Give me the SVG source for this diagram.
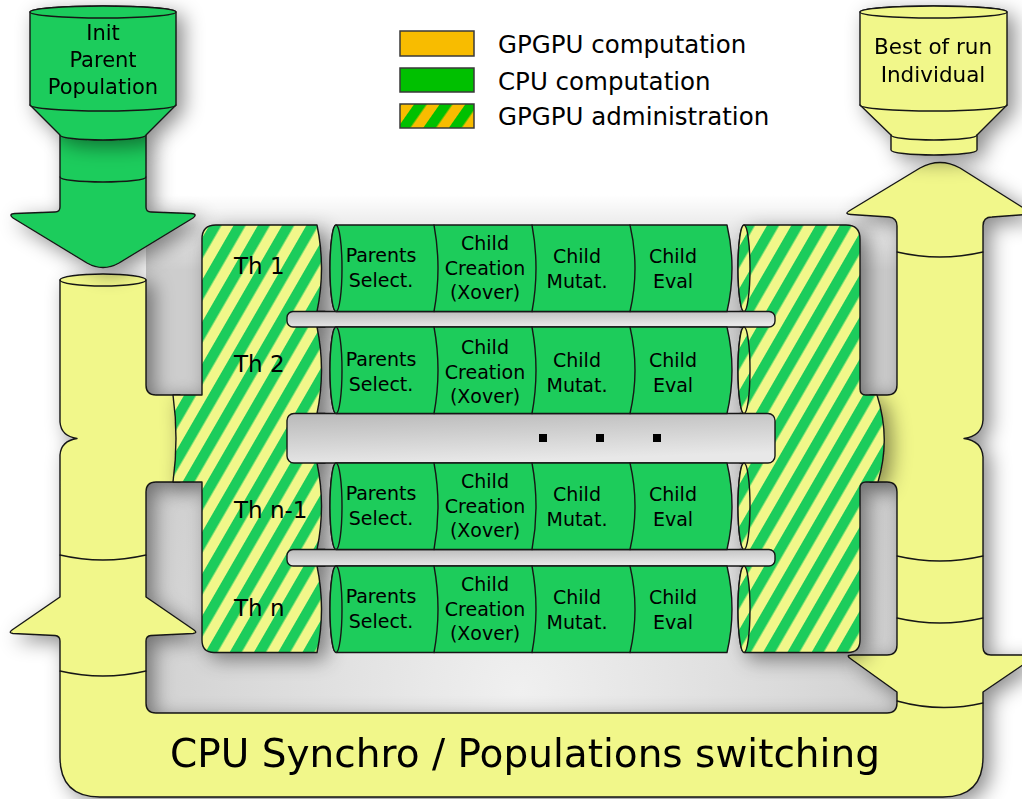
<svg xmlns="http://www.w3.org/2000/svg" xmlns:xlink="http://www.w3.org/1999/xlink" width="1022" height="799" viewBox="0 0 1022 799">
  <style>
    .ln{stroke:#161616;stroke-width:1.4;stroke-linejoin:round;stroke-linecap:round}
    .nf{fill:none}
    .grn{fill:#1dcc5b}
    .yel{fill:#f1f78a}
    .str{fill:url(#stripes)}
    .bar{fill:url(#barGrad)}
    text{font-family:"DejaVu Sans","Liberation Sans",sans-serif;fill:#000}
    .cyl{font-size:19px;text-anchor:middle}
    .th{font-size:23px}
    .leg{font-size:24.5px}
    .fun{font-size:21px;text-anchor:middle}
  </style>
  <defs>
    <!-- green / yellow diagonal stripes for GPGPU administration areas -->
    <pattern id="stripes" width="21" height="40" patternUnits="userSpaceOnUse" patternTransform="rotate(30)">
      <rect width="21" height="40" fill="#f1f78a"/>
      <rect width="10.5" height="40" fill="#1dcc5b"/>
    </pattern>
    <!-- legend variant: green / orange -->
    <pattern id="legStripes" width="21" height="40" patternUnits="userSpaceOnUse" patternTransform="rotate(35)">
      <rect width="21" height="40" fill="#f8bc00"/>
      <rect width="10.5" height="40" fill="#00c000"/>
    </pattern>
    <linearGradient id="barGrad" x1="0" y1="0" x2="0.3" y2="1">
      <stop offset="0" stop-color="#b9b9b9"/>
      <stop offset="1" stop-color="#e8e8e8"/>
    </linearGradient>
    <linearGradient id="bgFade" gradientUnits="userSpaceOnUse" x1="0" y1="195" x2="0" y2="270">
      <stop offset="0" stop-color="#ffffff"/>
      <stop offset="1" stop-color="#ffffff" stop-opacity="0"/>
    </linearGradient>
    <radialGradient id="bgGrad" gradientUnits="userSpaceOnUse" cx="520" cy="690" r="430">
      <stop offset="0" stop-color="#f0f0f0"/>
      <stop offset="1" stop-color="#cdcdcd"/>
    </radialGradient>
    <filter id="shadow" x="-30%" y="-30%" width="160%" height="160%">
      <feGaussianBlur in="SourceAlpha" stdDeviation="10"/>
      <feOffset dx="7" dy="6" result="blur"/>
      <feFlood flood-color="#000" flood-opacity="0.45"/>
      <feComposite in2="blur" operator="in"/>
      <feMerge><feMergeNode/><feMergeNode in="SourceGraphic"/></feMerge>
    </filter>
  </defs>

  <!-- recessed background inside the loop -->
  <rect x="146" y="195" width="751" height="518" fill="url(#bgGrad)"/>
  <rect x="146" y="195" width="751" height="75" fill="url(#bgFade)"/>

  <!-- CPU synchro loop: both columns and the bottom bar -->
  <g id="cpu-synchro" filter="url(#shadow)">
    <path class="yel ln" d="M60,280 V422 Q61,436 77,438.5 Q61,441 60,455 V597 L12,630 Q8,633 13,633.5 L55,635.5 Q60,636 60,641 V757 Q60,797 100,797 H943 Q983,797 983,757 V692 L1033,658 Q1038,655 1031,655 H991 Q983,655 983,647 V457 Q982,441 964,438.5 Q982,436 983,420 V226 Q983,217 992,217 L1033,214 L960,168 Q940,157 920,168 L849,211 Q844,214 851,214.5 L889,217 Q897,218 897,226 V385 Q897,395 887,395 H870 V482 H887 Q897,482 897,492 V645 Q897,655 887,655 H852 Q845,655 851,659 L897,692 V703 Q897,713 887,713 H156 Q146,713 146,703 V641 Q146,636 151,635.5 L193,633.5 Q198,633 194,630 L146,597 V492 Q146,482 156,482 H180 V395 H156 Q146,395 146,385 V280 A43,6 0 0 0 60,280 Z"/>
    <path class="ln nf" d="M60,280 A43,6 0 0 0 146,280"/>
    <path class="ln nf" d="M60,555 Q103,565 146,555 M60,671 Q103,681 146,671"/>
    <path class="ln nf" d="M897,252 Q940,262 983,252 M897,556 Q940,566 983,556 M897,618 Q940,628 983,618 M897,701 Q940,713 983,703"/>
    <text x="525" y="767" style="font-size:39px;text-anchor:middle">CPU Synchro / Populations switching</text>
  </g>

  <!-- arrow feeding the initial population into the loop -->
  <g id="connectors" filter="url(#shadow)">
    <path class="grn ln" d="M60,135 V207 Q60,212 55,212 L15,213.5 Q8,214 13,218 L87,263 Q103,272 119,263 L193,218 Q198,214 191,213.5 L151,212 Q146,212 146,207 V135 Z"/>
    <path class="ln nf" d="M60,177 A43,5 0 0 0 146,177"/>
  </g>

  <!-- initial parent population -->
  <g id="init-population" filter="url(#shadow)">
    <path class="grn ln" d="M30,12 V105 L60,135 A43,5 0 0 0 146,135 L176,105 V12 A73,6 0 0 0 30,12 Z"/>
    <ellipse class="grn ln" cx="103" cy="12" rx="73" ry="6"/>
    <path class="ln nf" d="M30,105 A73,6 0 0 0 176,105"/>
    <text class="fun" x="103" y="40">Init</text>
    <text class="fun" x="103" y="67">Parent</text>
    <text class="fun" x="103" y="94">Population</text>
  </g>

  <!-- best individual of the run -->
  <g id="best-individual" filter="url(#shadow)">
    <path class="yel ln" d="M860,12 V105 L891,135 V150 A43,5 0 0 0 977,150 V135 L1007,105 V12 A73.5,6 0 0 0 860,12 Z"/>
    <ellipse class="yel ln" cx="933.5" cy="12" rx="73.5" ry="6"/>
    <path class="ln nf" d="M860,105 A73.5,6 0 0 0 1007,105 M891,135 A43,5 0 0 0 977,135"/>
    <text class="fun" x="933" y="54" style="font-size:21.5px">Best of run</text>
    <text class="fun" x="933" y="82" style="font-size:21.5px">Individual</text>
  </g>

  <!-- GPGPU administration blocks -->
  <g id="gpgpu-admin" filter="url(#shadow)">
    <path class="str ln" d="M216,225 H317 Q326,268 317,311.5 H325 V327 H317 Q326,370 317,413.5 H325 V463 H317 Q326,506 317,549.5 H325 V566 H317 Q326,609 317,652.5 H214 Q202,652.5 202,640 V482 H173 Q179,438.5 173,395 H202 V239 Q202,225 216,225 Z"/>
    <path class="str ln" d="M744,225 H846 Q860,225 860,239 V389 Q860,395 866,395 H877 Q891,438.5 878,482 H866 Q860,482 860,488 V640 Q860,652.5 848,652.5 H744 A6,43.25 0 0 1 744,566 H740 V549.5 H744 A6,43.25 0 0 1 744,463 H740 V413.5 H744 A6,43.25 0 0 1 744,327 H740 V311.5 H744 A6,43.25 0 0 1 744,225 Z"/>
  </g>

  <!-- gaps between thread rows -->
  <g id="row-gaps">
    <rect class="bar ln" x="287" y="311.5" width="488" height="15.5" rx="6"/>
    <rect class="bar ln" x="287" y="413.5" width="488" height="49.5" rx="7"/>
    <rect class="bar ln" x="287" y="549.5" width="488" height="16.5" rx="6"/>
    <rect x="539" y="434" width="8" height="8" fill="#000"/>
    <rect x="596" y="434" width="8" height="8" fill="#000"/>
    <rect x="653" y="434" width="8" height="8" fill="#000"/>
  </g>

  <!-- one thread pipeline, row top at y=0 -->
  <defs>
    <g id="pipe">
      <path class="grn ln" d="M336,0 H727 Q737,43.25 727,86.5 H336 A6,43.25 0 0 1 336,0 Z"/>
      <ellipse class="grn ln" cx="336" cy="43.25" rx="6" ry="43.25"/>
      <path class="ln nf" d="M434,0 Q442,43.25 434,86.5 M532,0 Q540,43.25 532,86.5 M630,0 Q640,43.25 630,86.5"/>
      <ellipse class="str ln" cx="744" cy="43.25" rx="6" ry="43.25"/>
    </g>
  </defs>

  <g id="thread-1">
    <use xlink:href="#pipe" href="#pipe" transform="translate(0,225)"/>
    <text class="th" x="234" y="274">Th 1</text>
    <text class="cyl" x="381" y="262">Parents</text>
    <text class="cyl" x="381" y="287">Select.</text>
    <text class="cyl" x="485" y="250">Child</text>
    <text class="cyl" x="485" y="275">Creation</text>
    <text class="cyl" x="485" y="299">(Xover)</text>
    <text class="cyl" x="577" y="263">Child</text>
    <text class="cyl" x="577" y="287.5">Mutat.</text>
    <text class="cyl" x="673" y="263">Child</text>
    <text class="cyl" x="673" y="287.5">Eval</text>
  </g>

  <g id="thread-2">
    <use xlink:href="#pipe" href="#pipe" transform="translate(0,327)"/>
    <text class="th" x="234" y="372">Th 2</text>
    <text class="cyl" x="381" y="366">Parents</text>
    <text class="cyl" x="381" y="391">Select.</text>
    <text class="cyl" x="485" y="354">Child</text>
    <text class="cyl" x="485" y="379">Creation</text>
    <text class="cyl" x="485" y="403">(Xover)</text>
    <text class="cyl" x="577" y="367">Child</text>
    <text class="cyl" x="577" y="391.5">Mutat.</text>
    <text class="cyl" x="673" y="367">Child</text>
    <text class="cyl" x="673" y="391.5">Eval</text>
  </g>

  <g id="thread-n-1">
    <use xlink:href="#pipe" href="#pipe" transform="translate(0,463)"/>
    <text class="th" x="234" y="518">Th n-1</text>
    <text class="cyl" x="381" y="500">Parents</text>
    <text class="cyl" x="381" y="525">Select.</text>
    <text class="cyl" x="485" y="488">Child</text>
    <text class="cyl" x="485" y="513">Creation</text>
    <text class="cyl" x="485" y="537">(Xover)</text>
    <text class="cyl" x="577" y="501">Child</text>
    <text class="cyl" x="577" y="525.5">Mutat.</text>
    <text class="cyl" x="673" y="501">Child</text>
    <text class="cyl" x="673" y="525.5">Eval</text>
  </g>

  <g id="thread-n">
    <use xlink:href="#pipe" href="#pipe" transform="translate(0,566)"/>
    <text class="th" x="234" y="616">Th n</text>
    <text class="cyl" x="381" y="603">Parents</text>
    <text class="cyl" x="381" y="628">Select.</text>
    <text class="cyl" x="485" y="591">Child</text>
    <text class="cyl" x="485" y="616">Creation</text>
    <text class="cyl" x="485" y="640">(Xover)</text>
    <text class="cyl" x="577" y="604">Child</text>
    <text class="cyl" x="577" y="628.5">Mutat.</text>
    <text class="cyl" x="673" y="604">Child</text>
    <text class="cyl" x="673" y="628.5">Eval</text>
  </g>

  <!-- legend -->
  <g id="legend">
    <rect x="400" y="31" width="74" height="25" fill="#f8bc00" stroke="#3a3a3a" stroke-width="1.5"/>
    <rect x="400" y="68" width="74" height="24" fill="#00c000" stroke="#3a3a3a" stroke-width="1.5"/>
    <rect x="400" y="104" width="74" height="24" fill="url(#legStripes)" stroke="#3a3a3a" stroke-width="1.5"/>
    <text class="leg" x="498" y="53">GPGPU computation</text>
    <text class="leg" x="498" y="90">CPU computation</text>
    <text class="leg" x="498" y="125">GPGPU administration</text>
  </g>
</svg>
